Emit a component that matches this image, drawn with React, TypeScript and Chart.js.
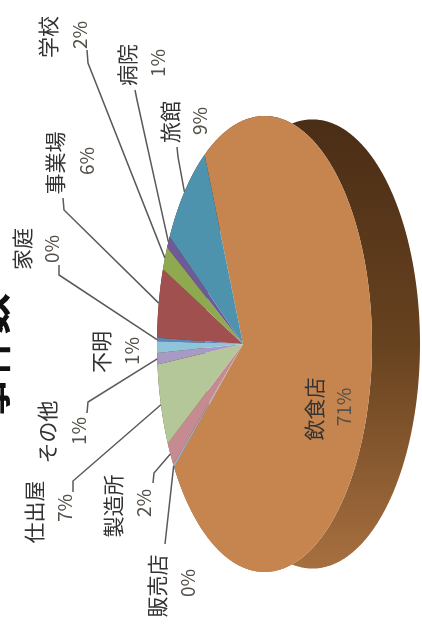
import { useEffect, useRef } from "react";
import { Chart, registerables } from "chart.js";

Chart.register(...registerables);

// Share of incidents per venue type, in percent, clockwise around the pie.
const venues = ["飲食店", "販売店", "製造所", "仕出屋", "その他", "不明", "家庭", "事業場", "学校", "病院", "旅館"];
const shares = [71, 0.3, 2, 7, 1, 1, 0.3, 6, 2, 1, 9];
const sliceColors = ["#C6854F", "#A3A9BC", "#C58B90", "#B4C799", "#A79BC5", "#90C4DA", "#5A86BC", "#A0504E", "#8EA950", "#6E5A9B", "#4E93AD"];
const chartTitle = "事件数";

// Screen placement of each label (name centre, percent centre) and its leader elbow points.
const labelLayout: Record<string, { name: [number, number]; pct: [number, number]; elbow?: [number, number][] }> = {
  飲食店: { name: [314, 409], pct: [344, 407] },
  販売店: { name: [157, 586], pct: [188, 583], elbow: [[165, 544]] },
  製造所: { name: [113, 506], pct: [144, 503], elbow: [[153, 483], [154, 473]] },
  仕出屋: { name: [34, 512], pct: [65, 508], elbow: [[73, 492], [73, 481]] },
  その他: { name: [47, 432], pct: [79, 431], elbow: [[87, 413], [88, 402]] },
  不明: { name: [101, 352], pct: [132, 351] },
  家庭: { name: [22, 249], pct: [52, 249], elbow: [[59, 265], [59, 275]] },
  事業場: { name: [55, 163], pct: [87, 161], elbow: [[63, 198], [64, 210]] },
  学校: { name: [48, 37], pct: [80, 35], elbow: [[87, 50], [88, 63]] },
  病院: { name: [127, 65], pct: [158, 63], elbow: [[135, 90], [137, 100]] },
  旅館: { name: [170, 122], pct: [200, 121], elbow: [[177, 147], [178, 157]] },
};

// Perspective projection of the pie's unit disc: apex position and tilt constants.
const APEX_X = 243;
const APEX_Y = 344;
const TILT_K = 0.2;
const SCALE_X = 103.2;
const SCALE_Y = 223.4;
const WALL_DEPTH = 48;

const project = (angle: number, radius = 1): [number, number] => {
  const u = Math.cos(angle) * radius;
  const v = Math.sin(angle) * radius;
  const w = 1 - TILT_K * u;
  return [APEX_X + (SCALE_X * u) / w, APEX_Y + (SCALE_Y * v) / w];
};

const arcPoints = (start: number, end: number): [number, number][] => {
  const steps = Math.max(2, Math.ceil(((end - start) * 180) / Math.PI) * 2);
  const pts: [number, number][] = [];
  for (let i = 0; i <= steps; i++) pts.push(project(start + ((end - start) * i) / steps));
  return pts;
};

const tiltedPie = {
  id: "tiltedPie",
  beforeDatasetDraw: () => false,
  afterDatasetsDraw(chart: Chart) {
    const ctx = chart.ctx;
    const arcs = chart.getDatasetMeta(0).data as any[];

    // Extruded side wall, visible only along the near rim.
    const wall = ctx.createLinearGradient(0, 116, 0, 572);
    wall.addColorStop(0, "#4A2D16");
    wall.addColorStop(0.5, "#67421F");
    wall.addColorStop(1, "#A87040");
    arcs.forEach((arc) => {
      const rim = arcPoints(arc.startAngle, arc.endAngle);
      ctx.beginPath();
      rim.forEach(([x, y], i) => (i ? ctx.lineTo(x, y) : ctx.moveTo(x, y)));
      rim
        .slice()
        .reverse()
        .forEach(([x, y]) => ctx.lineTo(x + WALL_DEPTH, APEX_Y + (y - APEX_Y) * 0.985));
      ctx.closePath();
      ctx.fillStyle = wall;
      ctx.fill();
    });

    // Top face of every slice.
    arcs.forEach((arc, i) => {
      ctx.beginPath();
      ctx.moveTo(APEX_X, APEX_Y);
      arcPoints(arc.startAngle, arc.endAngle).forEach(([x, y]) => ctx.lineTo(x, y));
      ctx.closePath();
      ctx.fillStyle = sliceColors[i];
      ctx.fill();
    });

    // Leader lines from the slice's rim midpoint to the label.
    ctx.strokeStyle = "#5A5A5A";
    ctx.lineWidth = 1.5;
    arcs.forEach((arc, i) => {
      const elbow = labelLayout[venues[i]].elbow;
      if (!elbow) return;
      const [tx, ty] = project((arc.startAngle + arc.endAngle) / 2);
      ctx.beginPath();
      elbow.forEach(([x, y], k) => (k ? ctx.lineTo(x, y) : ctx.moveTo(x, y)));
      ctx.lineTo(tx, ty);
      ctx.stroke();
    });

    // All text reads bottom to top.
    const drawText = (text: string, x: number, y: number, font: string, color: string) => {
      ctx.save();
      ctx.translate(x, y);
      ctx.rotate(-Math.PI / 2);
      ctx.font = font;
      ctx.fillStyle = color;
      ctx.textAlign = "center";
      ctx.textBaseline = "middle";
      ctx.fillText(text, 0, 0);
      ctx.restore();
    };
    venues.forEach((venue, i) => {
      const { name, pct } = labelLayout[venue];
      drawText(venue, name[0], name[1], '21px "Noto Sans CJK JP"', "#333333");
      drawText(`${Math.round(shares[i])}%`, pct[0], pct[1], '19px "Noto Sans CJK JP"', "#555048");
    });
    drawText(chartTitle, -10, 356, 'bold 42px "Noto Sans CJK JP"', "#111111");
  },
};

export default function App() {
  const canvasRef = useRef<HTMLCanvasElement>(null);

  useEffect(() => {
    const chart = new Chart(canvasRef.current!, {
      type: "pie",
      data: {
        labels: venues,
        datasets: [{ data: shares, backgroundColor: sliceColors, borderWidth: 0 }],
      },
      options: {
        responsive: false,
        animation: false,
        rotation: 336.3,
        plugins: { legend: { display: false }, tooltip: { enabled: false } },
      },
      plugins: [tiltedPie],
    });
    return () => chart.destroy();
  }, []);

  return (
    <div style={{ position: "fixed", left: 0, top: 0, width: 422, height: 642, background: "#fff" }}>
      <canvas ref={canvasRef} width={422} height={642} style={{ display: "block" }} />
    </div>
  );
}
